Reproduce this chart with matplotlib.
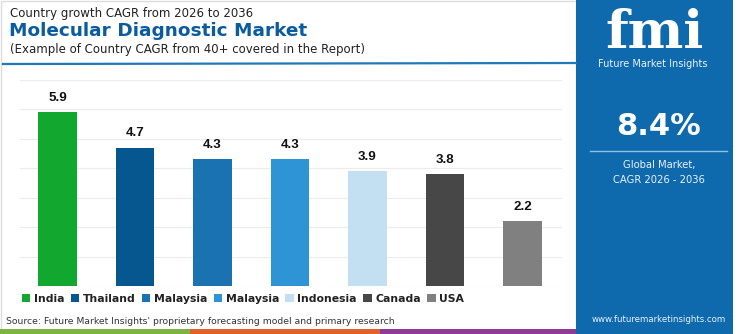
import matplotlib
matplotlib.use("Agg")
import matplotlib.pyplot as plt
from matplotlib.patches import Rectangle
from matplotlib.lines import Line2D

# data
countries = ["India", "Thailand", "Malaysia", "Malaysia", "Indonesia", "Canada", "USA"]
cagr = [5.9, 4.7, 4.3, 4.3, 3.9, 3.8, 2.2]
bar_colors = ["#12a82f", "#06568f", "#1a72b0", "#2f94d6", "#c2e0f2", "#474747", "#808080"]
global_cagr = "8.4%"

W, H = 750, 334
fig = plt.figure(figsize=(W / 100, H / 100), dpi=100, facecolor="white")

def fx(px):
    return px / W

def fy(py):
    return 1 - py / H

# light frame round the chart area
fig.patches.append(Rectangle((fx(1), fy(333)), fx(575), 332 / H, transform=fig.transFigure,
                             facecolor="none", edgecolor="#dcdcdc", linewidth=1))

# ===== title block =====
head_font = "DejaVu Sans"
fig.text(fx(10), fy(14), "Country growth CAGR from 2026 to 2036", fontsize=8.5,
         color="#222222", va="center", family=head_font)
fig.text(fx(9), fy(31), "Molecular Diagnostic Market", fontsize=13.3, fontweight="bold",
         color="#0b5c9e", va="center", family=head_font)
fig.text(fx(10), fy(49), "(Example of Country CAGR from 40+ covered in the Report)", fontsize=8.45,
         color="#222222", va="center", family=head_font)
fig.add_artist(Line2D([fx(3), fx(576)], [fy(64), fy(63)], transform=fig.transFigure,
                      color="#1f78b8", linewidth=1.6))

# ===== bars =====
ax = fig.add_axes([fx(20), fy(286), fx(542), (286 - 80) / H])
x = range(len(countries))
bars = ax.bar(x, cagr, width=0.5, color=bar_colors, zorder=3)
for b, v in zip(bars, cagr):
    ax.annotate(f"{v:.1f}", xy=(b.get_x() + b.get_width() / 2, v), xytext=(0, 6),
                textcoords="offset points", ha="center", va="bottom",
                fontsize=9.6, fontweight="bold", color="#111111", family="Liberation Sans")
ax.set_xlim(-0.484, 6.51)
ax.set_ylim(0, 7)
ax.set_yticks(range(0, 8))
ax.grid(axis="y", color="#ececec", linewidth=0.8, zorder=0)
ax.set_xticks([])
ax.tick_params(left=False, labelleft=False)
for s in ax.spines.values():
    s.set_visible(False)

# legend
handles = [Rectangle((0, 0), 1, 1, facecolor=c) for c in bar_colors]
leg = fig.legend(handles, countries, loc="center", bbox_to_anchor=(fx(243), fy(299)), ncol=7,
                 frameon=False, handlelength=0.75, handleheight=0.75, handletextpad=0.35,
                 columnspacing=0.6, borderpad=0, prop={"family": head_font, "weight": "bold", "size": 7.8})
for t in leg.get_texts():
    t.set_color("#222222")

fig.text(fx(6), fy(322), "Source: Future Market Insights' proprietary forecasting model and primary research",
         fontsize=6.7, color="#333333", va="center", family=head_font)

# bottom coloured stripe
for x0, x1, c in [(0, 190, "#7cb342"), (190, 380, "#e0622a"), (380, 576, "#8e3a96")]:
    fig.patches.append(Rectangle((fx(x0), 0), fx(x1 - x0), 5 / H, transform=fig.transFigure,
                                 facecolor=c, edgecolor="none"))

# ===== right blue panel =====
fig.patches.append(Rectangle((fx(576), 0), fx(157), 1, transform=fig.transFigure,
                             facecolor="#0f6aad", edgecolor="none"))
fig.text(fx(655), fy(33), "fmi", fontsize=38, fontweight="bold", color="white",
         ha="center", va="center", family="DejaVu Serif")
fig.text(fx(653), fy(64), "Future Market Insights", fontsize=7, color="#e8f1f8",
         ha="center", va="center", family=head_font)
fig.text(fx(659), fy(127), global_cagr, fontsize=22, fontweight="bold", color="white",
         ha="center", va="center", family=head_font)
fig.add_artist(Line2D([fx(590), fx(727)], [fy(151), fy(151)], transform=fig.transFigure,
                      color="#8fbfe3", linewidth=1))
fig.text(fx(659), fy(165), "Global Market,", fontsize=7.2, color="#e8f1f8",
         ha="center", va="center", family=head_font)
fig.text(fx(659), fy(180), "CAGR 2026 - 2036", fontsize=7.2, color="#e8f1f8",
         ha="center", va="center", family=head_font)
fig.text(fx(659), fy(319), "www.futuremarketinsights.com", fontsize=6.2, color="#e8f1f8",
         ha="center", va="center", family=head_font)

fig.savefig("out.png", dpi=100, facecolor="white")
